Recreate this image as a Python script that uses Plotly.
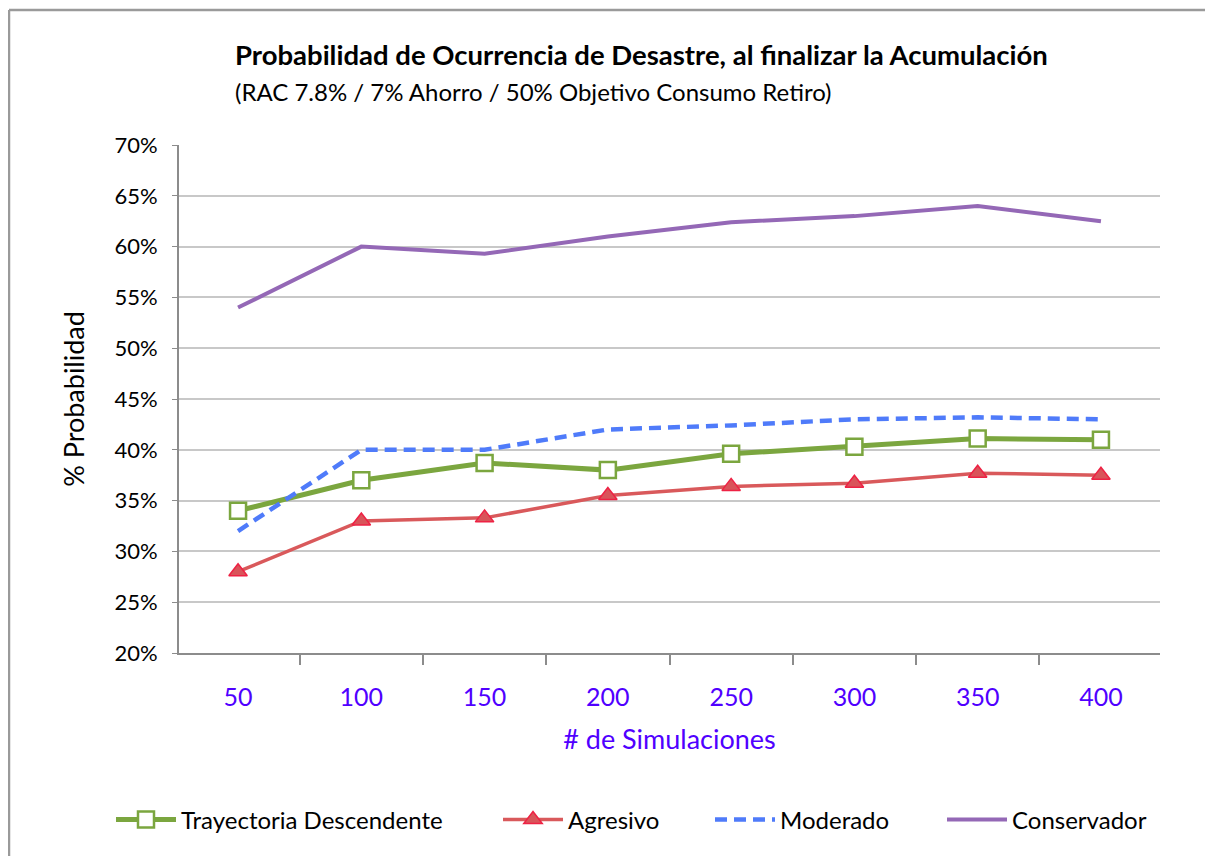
import plotly.graph_objects as go

categories = ["50", "100", "150", "200", "250", "300", "350", "400"]
trayectoria = [34.0, 37.0, 38.7, 38.0, 39.6, 40.3, 41.1, 41.0]
agresivo = [28.0, 33.0, 33.3, 35.5, 36.4, 36.7, 37.7, 37.5]
moderado = [32.0, 40.0, 40.0, 42.0, 42.4, 43.0, 43.2, 43.0]
conservador = [54.0, 60.0, 59.3, 61.0, 62.4, 63.0, 64.0, 62.5]
y_ticks = [20, 25, 30, 35, 40, 45, 50, 55, 60, 65, 70]

FONT = "Lato"
OFF = 8  # page body margin
PW, PH, L, T = 981, 508, 179, 145  # plot area as seen in the picture


def px(xp):
    return (xp - L) / PW


def py(yp):
    return (T + PH - yp) / PH


fig = go.Figure()
fig.add_trace(go.Scatter(
    x=categories, y=trayectoria, name="Trayectoria Descendente", mode="lines+markers",
    line=dict(color="#7BA63F", width=5),
    marker=dict(symbol="square", size=16, color="white", line=dict(color="#7BA63F", width=2.5)),
    legend="legend",
))
fig.add_trace(go.Scatter(
    x=categories, y=agresivo, name="Agresivo", mode="lines+markers",
    line=dict(color="#D9595B", width=3.5),
    marker=dict(symbol="triangle-up", size=16, color="#D9545A", line=dict(color="#EE2244", width=1.5)),
    legend="legend2",
))
fig.add_trace(go.Scatter(
    x=categories, y=moderado, name="Moderado", mode="lines",
    line=dict(color="#4F7BFA", width=4.5, dash="12px,7px"),
    legend="legend3",
))
fig.add_trace(go.Scatter(
    x=categories, y=conservador, name="Conservador", mode="lines",
    line=dict(color="#9468B6", width=4),
    legend="legend4",
))

leg_common = dict(orientation="h", yanchor="middle", xanchor="left", y=py(820),
                  font=dict(family=FONT, size=24, color="black"), itemwidth=60,
                  bgcolor="rgba(0,0,0,0)", borderwidth=0)

border = dict(color="#9a9a9a", width=2.5)

fig.update_layout(
    width=1213, height=856,
    paper_bgcolor="white", plot_bgcolor="white",
    margin=dict(l=L - OFF, r=1213 - (L - OFF) - PW, t=T - OFF, b=856 - (T - OFF) - PH),
    font=dict(family=FONT, color="black", size=20),
    title=dict(
        text="<b>Probabilidad de Ocurrencia de Desastre, al finalizar la Acumulación</b><br>"
             "<span style='font-size:24px'>(RAC 7.8% / 7% Ahorro / 50% Objetivo Consumo Retiro)</span>",
        x=(235 - OFF) / 1213, xanchor="left", y=1 - 57 / 856, yanchor="top",
        font=dict(family=FONT, size=27.5, color="black"),
    ),
    showlegend=True,
    legend=dict(leg_common, x=px(111)),
    legend2=dict(leg_common, x=px(498)),
    legend3=dict(leg_common, x=px(710)),
    legend4=dict(leg_common, x=px(942)),
    shapes=[
        dict(type="line", xref="paper", yref="paper",
             x0=px(9), x1=px(1260), y0=py(10), y1=py(10), line=border, layer="below"),
        dict(type="line", xref="paper", yref="paper",
             x0=px(9), x1=px(9), y0=py(10), y1=py(900), line=border, layer="below"),
    ],
)
fig.update_xaxes(
    type="category", tickson="boundaries", ticks="outside", ticklen=10, tickcolor="#8c8c8c",
    tickwidth=2, automargin=False,
    showline=True, linecolor="#8c8c8c", linewidth=2, showgrid=False,
    tickfont=dict(family=FONT, size=25, color="#5000FF"),
    title=dict(text="# de Simulaciones", font=dict(family=FONT, size=27, color="#5000FF"), standoff=20),
    ticklabelstandoff=21,
)
fig.update_yaxes(
    range=[20, 70], tickvals=y_ticks, ticktext=[f"{v}%" for v in y_ticks],
    ticks="outside", ticklen=5, tickcolor="#8c8c8c", automargin=False,
    showline=True, linecolor="#8c8c8c", linewidth=2, ticklabelstandoff=10,
    showgrid=True, gridcolor="#c8c8c8", gridwidth=2, zeroline=False,
    tickfont=dict(family=FONT, size=22, color="black"),
    title=dict(text="% Probabilidad", font=dict(family=FONT, size=27, color="black"), standoff=22),
)

fig.write_html("out.html")
